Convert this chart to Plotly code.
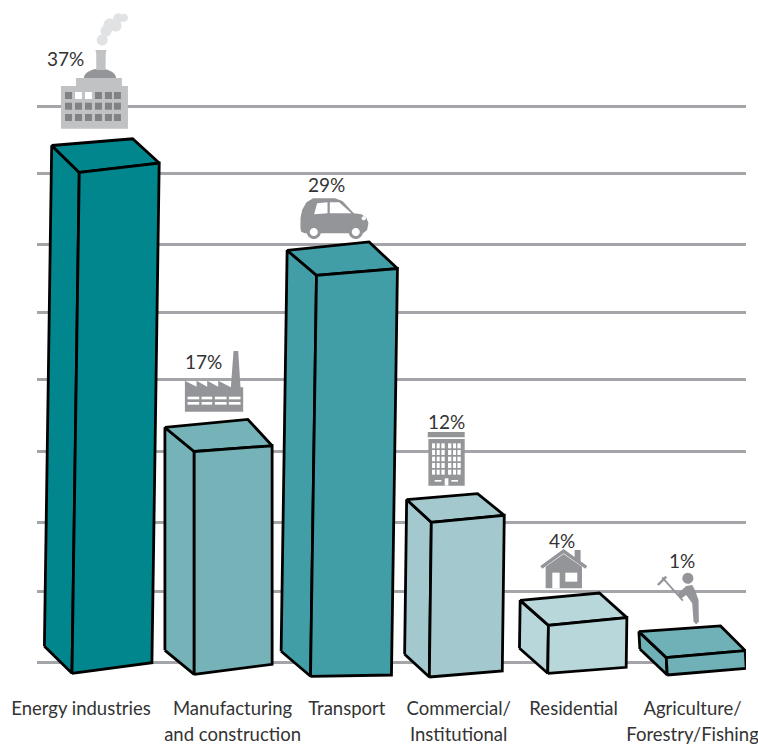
import math
import plotly.graph_objects as go

# ---------- data ----------
categories = ["Energy industries", "Manufacturing<br>and construction", "Transport",
              "Commercial/<br>Institutional", "Residential", "Agriculture/<br>Forestry/Fishing"]
share_labels = ["37%", "17%", "29%", "12%", "4%", "1%"]
# drawn bar heights (one grid step is about 5 units)
bar_heights = [36.03, 16.03, 28.85, 11.13, 3.45, 1.25]
bar_colors = ["#00868c", "#75b3b9", "#429ea6", "#a3c9ce", "#b7d7da", "#6fb1b7"]
grid_values = [0, 5.04, 10.07, 15.13, 20.29, 25.18, 30.07, 35.11, 40]

# ---------- geometry of the drawing (pixels, turned into axis units below) ----------
X_UNIT, Y_UNIT = 119.2, 13.9          # pixels per category step / per value unit
PLOT_L, PLOT_R, PLOT_B = 37, 746.5, 690
BASE_PX, FIRST_PX = 662, 72
nudge = [0, 3.1, 0.3, 0, -0.7, -0.3]
drop = [11.3, 12.3, 14.3, 15, 11.3, 13]
width = [80, 78, 81, 73, 78.5, 79]
lean = [7.3, 0, 6, 2, 0.7, -1]
top_rise = [9.4, 5.7, 6.7, 7, 7.7, 7]
bot_rise = [10.6, 10, 1.3, 6, 6, 6.7]
depth_x = [-27.6, -29.3, -29.4, -24.7, -28.3, -27.4]
depth_y = [-27, -24, -25, -22.7, -25, -26]
back_w = [81, 83, 82, 71, 79.3, 81.7]
back_rise = [6.7, 8, 8.3, 6, 7.3, 5.7]
tick_px = [81, 232.7, 347, 459, 574, 693]
label_px = [(65.5, 58), (204, 361), (327, 184), (447, 421), (562, 540), (682.5, 560)]


def dx(px):
    return (px - FIRST_PX) / X_UNIT


def dy(py):
    return (BASE_PX - py) / Y_UNIT


fig = go.Figure()
for i, (h, c) in enumerate(zip(bar_heights, bar_colors)):
    x0 = i + nudge[i] / X_UNIT
    y0 = -drop[i] / Y_UNIT
    w = width[i] / X_UNIT
    tl = (x0 + lean[i] / X_UNIT, y0 + h)
    tr = (tl[0] + w, tl[1] + top_rise[i] / Y_UNIT)
    bl = (x0, y0)
    br = (x0 + w, y0 + bot_rise[i] / Y_UNIT)
    d = (depth_x[i] / X_UNIT, -depth_y[i] / Y_UNIT)
    btl = (tl[0] + d[0], tl[1] + d[1])
    btr = (btl[0] + back_w[i] / X_UNIT, btl[1] + back_rise[i] / Y_UNIT)
    bbl = (bl[0] + d[0], bl[1] + d[1])
    for face in ([bbl, btl, tl, bl], [btl, btr, tr, tl], [bl, tl, tr, br]):
        fig.add_trace(go.Scatter(
            x=[p[0] for p in face] + [face[0][0]],
            y=[p[1] for p in face] + [face[0][1]],
            mode="lines", fill="toself", fillcolor=c,
            line=dict(color="#000000", width=2.8),
            hoverinfo="skip", showlegend=False, cliponaxis=False))

# ---------- pictograms (decoration) ----------
GREY, LIGHT, DARK, SMOKE = "#939598", "#c1c2c4", "#808285", "#e1e2e3"
shapes = []


def poly(points, color):
    path = "M" + " L".join(f"{dx(x):.4f},{dy(y):.4f}" for x, y in points) + " Z"
    shapes.append(dict(type="path", path=path, xref="x", yref="y",
                       fillcolor=color, line=dict(width=0), layer="above"))


def rect(x0, y0, x1, y1, color):
    poly([(x0, y0), (x1, y0), (x1, y1), (x0, y1)], color)


def ell(cx, cy, rx, ry, color, a0=0, a1=360):
    n = 36
    pts = [(cx + rx * math.cos(math.radians(a0 + (a1 - a0) * k / n)),
            cy - ry * math.sin(math.radians(a0 + (a1 - a0) * k / n))) for k in range(n + 1)]
    poly(pts, color)


def stroke(points, w, color):
    path = "M" + " L".join(f"{dx(x):.4f},{dy(y):.4f}" for x, y in points)
    shapes.append(dict(type="path", path=path, xref="x", yref="y",
                       line=dict(width=w, color=color), layer="above"))


def zoomed(ox, oy, pts):
    return [(ox + a / 3, oy + b / 3) for a, b in pts]


# power plant
for cx, cy, r in [(102.3, 40, 5.5), (106, 31, 5.5), (110, 25, 6.5), (116, 26, 5.5), (118.3, 18.3, 5), (124, 17.7, 4)]:
    ell(cx, cy, r, r, SMOKE)
ell(100, 78, 16, 9.3, GREY, 0, 180)
poly([(95.5, 50), (106.5, 50), (105.7, 54), (105.7, 70), (96.3, 70), (96.3, 54)], LIGHT)
rect(76, 78, 122, 86, LIGHT)
rect(61, 86, 128, 128.7, LIGHT)
for row, wy in enumerate([92, 102.7, 114]):
    for col, wx in enumerate([65, 75, 85, 95, 105, 114]):
        rect(wx, wy, wx + 7, wy + 7, "#ffffff" if row == 0 and col in (1, 2) else DARK)

# factory
poly(zoomed(170, 340, [(45, 215), (45, 122), (80, 140), (80, 122), (112, 140), (112, 122), (145, 140), (145, 122),
                       (183, 142), (191, 33), (205, 33), (212, 142), (220, 142), (220, 215)]), GREY)
for band in [(170, 178), (186, 194)]:
    for a, b in [(53, 88), (95, 127), (135, 170), (177, 212)]:
        poly(zoomed(170, 340, [(a, band[0]), (b, band[0]), (b, band[1]), (a, band[1])]), "#ffffff")

# car
poly(zoomed(280, 170, [(62, 175), (62, 145), (67, 120), (80, 97), (100, 85), (165, 85), (188, 93), (222, 130),
                       (245, 133), (260, 143), (266, 160), (262, 180), (250, 190), (75, 190), (64, 185)]), GREY)
poly(zoomed(280, 170, [(103, 133), (112, 100), (143, 97), (143, 130)]), "#ffffff")
poly(zoomed(280, 170, [(150, 97), (178, 97), (215, 130), (150, 130)]), "#ffffff")
ell(280 + 252 / 3, 170 + 145 / 3, 2.2, 2, "#ffffff")
for wx in (102, 228):
    ell(280 + wx / 3, 170 + 186 / 3, 7, 7, GREY)
    ell(280 + wx / 3, 170 + 186 / 3, 4, 4, "#ffffff")

# office block
poly(zoomed(170, 340, [(774, 276), (885, 276), (885, 292), (774, 292)]), GREY)
poly(zoomed(170, 340, [(776, 297), (885, 297), (885, 437), (776, 437)]), GREY)
for ry0, ry1 in [(310, 325), (330, 345), (350, 364), (369, 384), (389, 404)]:
    for cx0, cx1 in [(787, 796), (801, 810), (815, 825), (835, 845), (850, 859), (863, 873)]:
        poly(zoomed(170, 340, [(cx0, ry0), (cx1, ry0), (cx1, ry1), (cx0, ry1)]), "#ffffff")
for a, b, c, e in [(795, 420, 815, 425), (845, 420, 865, 425), (825, 415, 836, 437)]:
    poly(zoomed(170, 340, [(a, b), (c, b), (c, e), (a, e)]), "#ffffff")

# house
poly(zoomed(500, 530, [(138, 175), (138, 110), (192, 72), (247, 110), (247, 175)]), GREY)
poly(zoomed(500, 530, [(122, 108), (192, 57), (225, 81), (225, 60), (243, 60), (243, 94), (263, 108), (257, 116),
                       (192, 70), (128, 116)]), GREY)
poly(zoomed(500, 530, [(158, 128), (180, 128), (180, 175), (158, 175)]), "#ffffff")
poly(zoomed(500, 530, [(197, 128), (233, 128), (233, 155), (197, 155)]), "#ffffff")

# worker
ell(650 + 115 / 3, 570 + 25 / 3, 5.5, 5.5, GREY)
poly(zoomed(650, 570, [(110, 48), (128, 45), (136, 60), (147, 90), (148, 155), (140, 163), (132, 155), (128, 100),
                       (110, 75), (92, 88), (84, 72)]), GREY)
stroke(zoomed(650, 570, [(38, 22), (100, 92)]), 1.8, GREY)
stroke(zoomed(650, 570, [(25, 45), (50, 20)]), 2.4, GREY)

# ---------- text ----------
annotations = [dict(x=dx(px), y=dy(py), text=t, showarrow=False, xref="x", yref="y",
                    font=dict(family="Lato", size=19, color="#333333"))
               for t, (px, py) in zip(share_labels, label_px)]

tick_text = ["<br>".join(f'<span style="font-size:18.5px">{line}</span>' for line in c.split("<br>"))
             for c in categories]

fig.update_layout(
    width=758, height=744, margin=dict(l=PLOT_L, r=758 - PLOT_R, t=0, b=744 - PLOT_B),
    paper_bgcolor="#ffffff", plot_bgcolor="#ffffff", showlegend=False,
    shapes=shapes, annotations=annotations,
    xaxis=dict(range=[dx(PLOT_L), dx(PLOT_R)], tickmode="array", tickvals=[dx(p) for p in tick_px],
               ticktext=tick_text, tickangle=0, showgrid=False, zeroline=False, showline=False, ticks="",
               ticklabelstandoff=4, ticklabeloverflow="allow",
               tickfont=dict(family="Lato", size=20, color="#333333")),
    yaxis=dict(range=[dy(PLOT_B), dy(0)], tickmode="array", tickvals=grid_values,
               showticklabels=False, showgrid=True, gridcolor="#a3a5a8", gridwidth=3, zeroline=False,
               showline=False, ticks=""),
)

fig.write_html("out.html", config=dict(displayModeBar=False),
               post_script="document.body.style.margin='0';document.body.style.overflow='hidden';")
